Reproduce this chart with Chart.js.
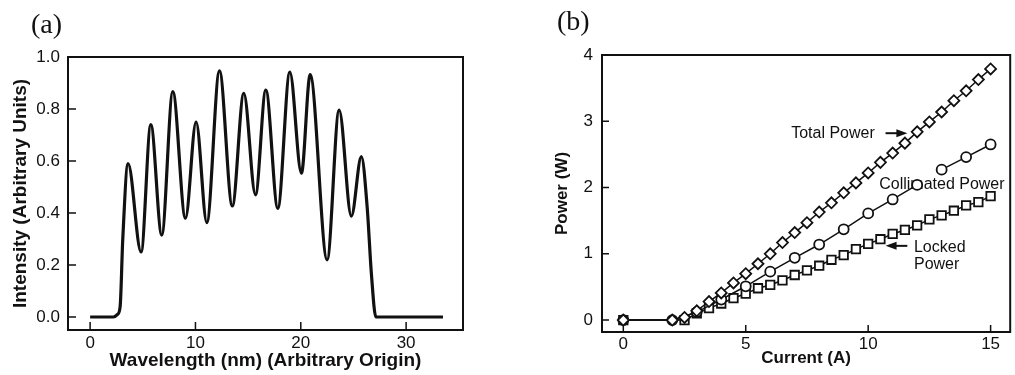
<!DOCTYPE html>
<html>
<head>
<meta charset="utf-8">
<script src="https://cdn.jsdelivr.net/npm/chart.js@4.4.1/dist/chart.umd.min.js"></script>
<style>
  html, body { margin: 0; padding: 0; background: #fff; overflow: hidden; }
  #wrapA { position: absolute; left: 0; top: 0; width: 500px; height: 375px; }
  #wrapB { position: absolute; left: 500px; top: 0; width: 518px; height: 375px; }
</style>
</head>
<body>
<div id="wrapA"><canvas id="specChart"></canvas></div>
<div id="wrapB"><canvas id="powerChart"></canvas></div>
<script>
// (a) spectrum (peaks, troughs and the two edges)
const wavelength = [0, 2.2, 2.6, 2.85, 3.1, 3.6, 4.84, 5.76, 6.8, 7.85, 9.05, 10.06, 11.08, 12.28, 13.5,
    14.59, 15.7, 16.68, 17.82, 18.96, 20.06, 20.89, 22.5, 23.64, 24.8, 25.75, 26.3, 26.7, 27.13, 33.5];
const intensity = [0, 0, 0.01, 0.04, 0.30, 0.59, 0.25, 0.74, 0.315, 0.867, 0.38, 0.75, 0.363, 0.947, 0.427,
    0.86, 0.47, 0.873, 0.418, 0.942, 0.553, 0.932, 0.22, 0.796, 0.388, 0.617, 0.424, 0.168, 0, 0];
const wavelengthTicks = [0, 10, 20, 30];
const intensityTicks = [0, 0.2, 0.4, 0.6, 0.8, 1.0];

// (b) power vs current
const totalCurrent = [0, 2, 2.5, 3, 3.5, 4, 4.5, 5, 5.5, 6, 6.5, 7, 7.5, 8, 8.5, 9, 9.5, 10, 10.5, 11, 11.5, 12, 12.5, 13, 13.5, 14, 14.5, 15];
const totalPower = [0, 0, 0.04, 0.14, 0.28, 0.41, 0.56, 0.70, 0.85, 1.0, 1.17, 1.32, 1.47, 1.63, 1.77, 1.92, 2.07, 2.22, 2.38, 2.52, 2.67, 2.84, 2.99, 3.14, 3.31, 3.46, 3.63, 3.79];
const collCurrent = [0, 2, 3, 4, 5, 6, 7, 8, 9, 10, 11, 12, 13, 14, 15];
const collPower = [0, 0, 0.12, 0.31, 0.51, 0.73, 0.94, 1.14, 1.37, 1.61, 1.82, 2.04, 2.27, 2.46, 2.65];
const lockedCurrent = [0, 2.5, 3, 3.5, 4, 4.5, 5, 5.5, 6, 6.5, 7, 7.5, 8, 8.5, 9, 9.5, 10, 10.5, 11, 11.5, 12, 12.5, 13, 13.5, 14, 14.5, 15];
const lockedPower = [0, 0, 0.10, 0.18, 0.25, 0.33, 0.40, 0.48, 0.53, 0.60, 0.68, 0.75, 0.82, 0.91, 0.98, 1.07, 1.15, 1.22, 1.30, 1.36, 1.43, 1.52, 1.58, 1.65, 1.73, 1.78, 1.87];
const currentTicks = [0, 5, 10, 15];
const powerTicks = [0, 1, 2, 3, 4];

const INK = '#111';
const SANS = '"Liberation Sans", Arial, sans-serif';

function toPoints(xs, ys) {
    return xs.map((x, i) => ({ x: x, y: ys[i] }));
}

function fixedTicks(list) {
    return scale => { scale.ticks = list.map(v => ({ value: v })); };
}

// box around the plot + ticks pointing inward + the panel letter
const framePlugin = {
    id: 'frame',
    afterDraw(chart, args, opts) {
        const { ctx, chartArea: a, scales } = chart;
        ctx.save();
        ctx.strokeStyle = INK;
        ctx.lineWidth = 2;
        ctx.strokeRect(a.left, a.top, a.right - a.left, a.bottom - a.top);
        ctx.lineWidth = 1.5;
        ctx.beginPath();
        scales.x.ticks.forEach(t => {
            const px = scales.x.getPixelForValue(t.value);
            ctx.moveTo(px, a.bottom);
            ctx.lineTo(px, a.bottom - opts.tickLen);
        });
        scales.y.ticks.forEach(t => {
            const py = scales.y.getPixelForValue(t.value);
            ctx.moveTo(a.left, py);
            ctx.lineTo(a.left + opts.tickLen, py);
        });
        ctx.stroke();
        ctx.fillStyle = INK;
        ctx.font = '28px "Liberation Serif", "Times New Roman", serif';
        ctx.textBaseline = 'middle';
        ctx.fillText(opts.letter, opts.letterX, opts.letterY);
        ctx.restore();
    }
};

function arrow(ctx, x1, y1, x2, y2) {
    const dir = Math.sign(x2 - x1);
    ctx.beginPath();
    ctx.moveTo(x1, y1);
    ctx.lineTo(x2 - dir * 8, y2);
    ctx.stroke();
    ctx.beginPath();
    ctx.moveTo(x2, y2);
    ctx.lineTo(x2 - dir * 11, y2 - 4);
    ctx.lineTo(x2 - dir * 11, y2 + 4);
    ctx.closePath();
    ctx.fill();
}

// labels on the power panel, placed in data units
const notes = [
    { text: 'Total Power', x: 10.27, y: 2.81, align: 'right' },
    { text: 'Collimated Power', x: 10.45, y: 2.04, align: 'left' },
    { text: 'Locked', x: 11.87, y: 1.09, align: 'left' },
    { text: 'Power', x: 11.87, y: 0.83, align: 'left' }
];
const arrows = [
    { x1: 10.71, x2: 11.6, y: 2.82 },
    { x1: 11.6, x2: 10.71, y: 1.12 }
];

const notesPlugin = {
    id: 'notes',
    beforeDatasetsDraw(chart) {
        const { ctx, scales: { x, y } } = chart;
        ctx.save();
        ctx.fillStyle = INK;
        ctx.strokeStyle = INK;
        ctx.lineWidth = 2;
        ctx.font = '16px ' + SANS;
        ctx.textBaseline = 'middle';
        notes.forEach(n => {
            ctx.textAlign = n.align;
            ctx.fillText(n.text, x.getPixelForValue(n.x), y.getPixelForValue(n.y));
        });
        arrows.forEach(a => {
            arrow(ctx, x.getPixelForValue(a.x1), y.getPixelForValue(a.y),
                x.getPixelForValue(a.x2), y.getPixelForValue(a.y));
        });
        ctx.restore();
    }
};

Chart.defaults.font.family = SANS;
Chart.defaults.color = INK;

new Chart(document.getElementById('specChart'), {
    type: 'line',
    data: {
        datasets: [{
            data: toPoints(wavelength, intensity),
            borderColor: INK,
            borderWidth: 3.2,
            pointRadius: 0,
            cubicInterpolationMode: 'monotone',
            fill: false
        }]
    },
    options: {
        responsive: true,
        maintainAspectRatio: false,
        animation: false,
        layout: { padding: { top: 57, right: 37, left: 0, bottom: 0 } },
        plugins: {
            legend: { display: false },
            tooltip: { enabled: false },
            frame: { tickLen: 8, letter: '(a)', letterX: 31, letterY: 26 }
        },
        scales: {
            x: {
                type: 'linear',
                min: -2.1,
                max: 35.4,
                afterBuildTicks: fixedTicks(wavelengthTicks),
                afterFit: s => { s.height = 45; },
                grid: { display: false, drawTicks: false },
                border: { display: false },
                ticks: { font: { size: 17 }, padding: 3, maxRotation: 0 },
                title: {
                    display: true,
                    text: 'Wavelength (nm) (Arbitrary Origin)',
                    font: { size: 19, weight: 'bold' },
                    padding: { top: 0, bottom: 3 }
                }
            },
            y: {
                min: -0.05,
                max: 1.0,
                afterBuildTicks: fixedTicks(intensityTicks),
                afterFit: s => { s.width = 68; },
                grid: { display: false, drawTicks: false },
                border: { display: false },
                ticks: { font: { size: 17 }, padding: 8, callback: v => v.toFixed(1) },
                title: {
                    display: true,
                    text: 'Intensity (Arbitrary Units)',
                    font: { size: 19, weight: 'bold' },
                    padding: { top: 9, bottom: 0 }
                }
            }
        }
    },
    plugins: [framePlugin]
});

const markerStyle = {
    borderColor: INK,
    borderWidth: 1.5,
    pointBackgroundColor: '#fff',
    pointBorderColor: INK,
    pointBorderWidth: 1.8,
    fill: false
};

new Chart(document.getElementById('powerChart'), {
    type: 'line',
    data: {
        datasets: [
            Object.assign({
                label: 'Total Power',
                data: toPoints(totalCurrent, totalPower),
                pointStyle: 'rectRot',
                pointRadius: 5.5
            }, markerStyle),
            Object.assign({
                label: 'Collimated Power',
                data: toPoints(collCurrent, collPower),
                pointStyle: 'circle',
                pointRadius: 5,
                // the label sits on the 12 -> 13 A stretch, so that segment is left out
                segment: { borderColor: c => c.p0.parsed.x === 12 ? 'rgba(0,0,0,0)' : undefined }
            }, markerStyle),
            Object.assign({
                label: 'Locked Power',
                data: toPoints(lockedCurrent, lockedPower),
                pointStyle: 'rect',
                pointRadius: 6
            }, markerStyle)
        ]
    },
    options: {
        responsive: true,
        maintainAspectRatio: false,
        animation: false,
        layout: { padding: { top: 55, right: 1, left: 0, bottom: 0 } },
        plugins: {
            legend: { display: false },
            tooltip: { enabled: false },
            frame: { tickLen: 7, letter: '(b)', letterX: 57, letterY: 23 }
        },
        scales: {
            x: {
                type: 'linear',
                min: -0.87,
                max: 15.8,
                afterBuildTicks: fixedTicks(currentTicks),
                afterFit: s => { s.height = 43; },
                grid: { display: false, drawTicks: false },
                border: { display: false },
                ticks: { font: { size: 17 }, padding: 2, maxRotation: 0 },
                title: {
                    display: true,
                    text: 'Current (A)',
                    font: { size: 17, weight: 'bold' },
                    padding: { top: 0, bottom: 6 }
                }
            },
            y: {
                min: -0.18,
                max: 4,
                afterBuildTicks: fixedTicks(powerTicks),
                afterFit: s => { s.width = 102; },
                grid: { display: false, drawTicks: false },
                border: { display: false },
                ticks: { font: { size: 17 }, padding: 9 },
                title: {
                    display: true,
                    text: 'Power (W)',
                    font: { size: 17, weight: 'bold' },
                    padding: { top: 52, bottom: 0 }
                }
            }
        }
    },
    plugins: [framePlugin, notesPlugin]
});
</script>
</body>
</html>
